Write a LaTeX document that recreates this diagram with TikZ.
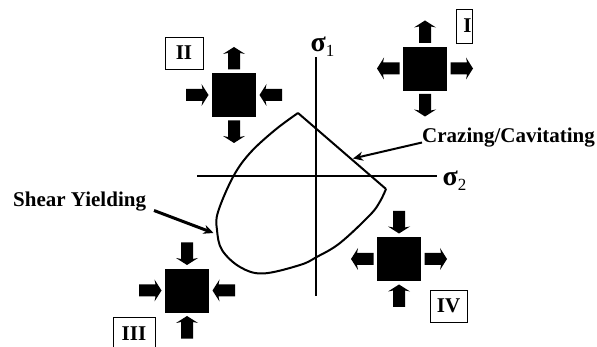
\documentclass[tikz,border=0pt]{standalone}
\usepackage{fontspec}
\setmainfont{Liberation Serif}
\usetikzlibrary{arrows.meta}
\tikzset{
  stressblock/.style={fill=black,draw=black,line width=.5pt,minimum size=43pt,inner sep=0pt},
  caselabel/.style={draw=black,line width=.8pt,fill=white,inner sep=0pt,font=\fontsize{21}{23}\selectfont\bfseries},
  callout/.style={inner sep=0pt,font=\fontsize{21}{23}\selectfont\bfseries},
  axislabel/.style={inner sep=0pt,anchor=base west},
  axisline/.style={line width=2pt},
  leader/.style={-{Stealth[length=10pt,width=9pt]}}
}
\newcommand{\OutArrow}[2]{%
  \fill[shift={(#1)},rotate=#2] (25.5,-6) -- (42,-6) -- (41,-11) -- (48,0) -- (41,11) -- (42,6) -- (25.5,6) -- cycle;}
\newcommand{\InArrow}[2]{%
  \fill[shift={(#1)},rotate=#2] (48,-6) -- (31.5,-6) -- (32.5,-11) -- (25.5,0) -- (32.5,11) -- (31.5,6) -- (48,6) -- cycle;}
\newcommand{\SigmaLabel}[1]{{\fontsize{28}{29}\selectfont\bfseries σ}\raisebox{-5pt}{\fontsize{17}{18}\selectfont #1}}

\begin{document}
\begin{tikzpicture}[x=1pt,y=-1pt]
\useasboundingbox (0,0) rectangle (597,347);

\coordinate (S1) at (316,57);
\coordinate (S0) at (316,296);
\coordinate (W) at (197,176);
\coordinate (E) at (437,176);

\draw[axisline] (S0) -- (S1);
\draw[axisline] (W) -- (E);

\node[axislabel] (sig1) at (310.5,52) {\SigmaLabel{1}};
\node[axislabel] (sig2) at (442.5,186) {\SigmaLabel{2}};

% yield envelope
\coordinate (Peak) at (298,113);
\coordinate (Corner) at (386,189);
\draw[axisline,line join=round] (Peak) -- (Corner);
\draw[axisline,line join=round,smooth,tension=.6] plot coordinates {
  (Corner) (380,201.5) (370,215) (340,243) (316.7,257) (300,265) (263,273.5)
  (240,267) (222,250) (217,230) (218,212) (233,177) (250,153) (275,130) (Peak)};

% stress states
\node[stressblock] (I) at (425,68.5) {};
\node[stressblock] (II) at (234,95) {};
\node[stressblock] (III) at (187,290.5) {};
\node[stressblock] (IV) at (399,259) {};

\foreach \a in {0,90,180,270} {
  \OutArrow{I.center}{\a}
  \InArrow{III.center}{\a}
}
\foreach \a in {90,270} {
  \OutArrow{II.center}{\a}
  \InArrow{IV.center}{\a}
}
\foreach \a in {0,180} {
  \InArrow{II.center}{\a}
  \OutArrow{IV.center}{\a}
}

\node[caselabel,minimum width=38pt,minimum height=32pt] (labII) at (184,53) {II};
\node[caselabel,minimum width=16pt,minimum height=34pt,text width=15pt,align=right] (labI) at (464,26) {I};
\node[caselabel,minimum width=42pt,minimum height=34pt] (labIII) at (134,334) {III};
\node[caselabel,minimum width=37pt,minimum height=32pt] (labIV) at (448.5,306) {IV};

% failure modes
\node[callout,anchor=west] (craze) at (422,138) {Crazing/Cavitating};
\node[callout,anchor=west] (shear) at (13,202) {Shear Yielding};
\coordinate (crazetip) at (353,158.5);
\coordinate (shearfrom) at (154,210.5);
\coordinate (sheartip) at (213.5,233);

\draw[leader,line width=2pt] (craze.west |- 0,142.5) -- (crazetip);
\draw[leader,line width=3pt] (shearfrom) -- (sheartip);
\end{tikzpicture}
\end{document}
